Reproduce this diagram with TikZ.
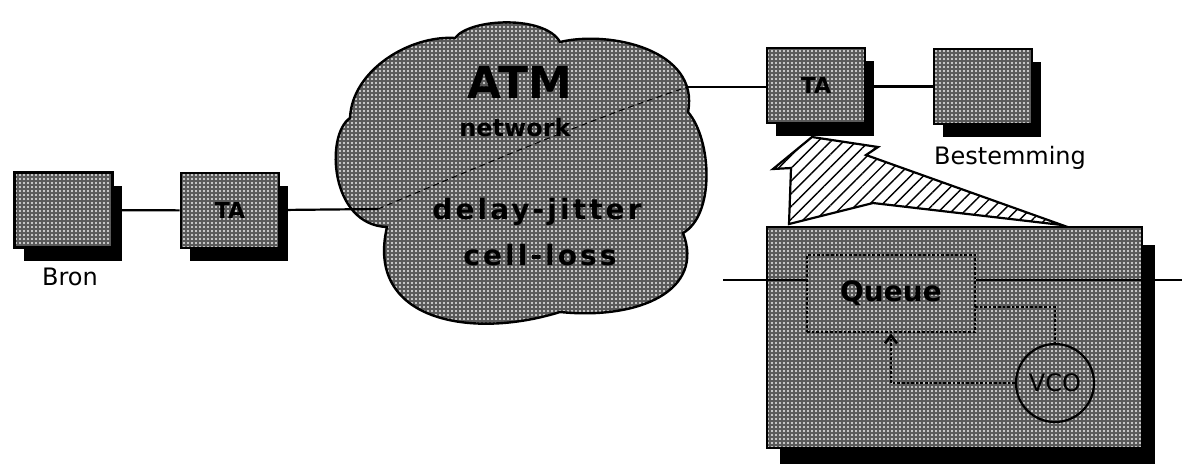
\documentclass[tikz,border=0pt]{standalone}
\usepackage{fontspec}
\setmainfont{DejaVu Sans}
\usetikzlibrary{shadows,patterns.meta,arrows.meta}
\begin{document}
\begin{tikzpicture}[x=0.5pt,y=-0.5pt,
  halftone/.style={preaction={fill=black!65}, pattern={Dots[radius=0.55pt,distance=2pt]}, pattern color=white!92!black},
  termbox/.style={draw=black, line width=1.4pt, minimum width=49pt, minimum height=37.5pt, inner sep=0pt,
    drop shadow={shadow xshift=4.5pt, shadow yshift=-6.5pt, fill=black, opacity=1}, halftone,
    font=\bfseries\fontsize{11}{12}\selectfont},
  conn/.style={line width=1.1pt},
  lbl/.style={font=\fontsize{12}{14}\selectfont},
  cloudtxt/.style={font=\bfseries\fontsize{14}{16}\selectfont\addfontfeature{LetterSpace=11}},
]
\useasboundingbox (0,0) rectangle (1182,463);
\fill[white] (0,0) rectangle (1182,463);

% hatched arrow
\draw[line width=1.1pt, line join=miter, pattern={Lines[angle=45,distance=4.5pt,line width=0.7pt]}]
  (789,224) -- (791,168) -- (773,169) -- (812,137) -- (878,147) -- (866,155) -- (1062,225) -- (873,203) -- cycle;

% terminals
\node[termbox] (bron) at (63.5,210) {};
\node[termbox] (taL) at (230,210.5) {TA};
\node[termbox] (taR) at (816,85.5) {TA};
\node[termbox] (best) at (983,86.5) {};
\node[lbl] (bronlbl) at (70,277) {Bron};
\node[lbl] (bestlbl) at (1010,158) {Bestemming};

% cloud
\coordinate (cin) at (378,209);
\coordinate (cout) at (688,87);
\path[halftone, draw=black, line width=1.2pt]
  (350,118) .. controls (352,70) and (410,35) .. (455,38)
  .. controls (470,18) and (545,15) .. (560,42)
  .. controls (610,30) and (700,50) .. (688,112)
  .. controls (712,140) and (715,215) .. (683,233)
  .. controls (705,290) and (640,320) .. (560,312)
  .. controls (470,340) and (365,320) .. (387,227)
  .. controls (330,225) and (325,135) .. (350,118) -- cycle;
\draw[densely dashed, line width=0.5pt] (cin) .. controls (470,170) and (600,115) .. (cout);
\node[font=\bfseries\fontsize{22}{24}\selectfont] (atm) at (520,82) {ATM};
\node[font=\bfseries\fontsize{12}{14}\selectfont] (net) at (515,128) {network};
\node[cloudtxt] (delay) at (537,212) {delay-jitter};
\node[cloudtxt] (loss) at (540,255) {cell-loss};

% connectors
\draw[conn] (bron) -- (taL);
\draw[conn] (taL) -- (cin);
\draw[conn] (cout) -- (taR.west |- cout);
\draw[conn] (taR.east |- best.west) -- (best);

% device box
\node[drop shadow={shadow xshift=6.5pt, shadow yshift=-9pt, fill=black, opacity=1},
  draw=black, line width=1.2pt, halftone, minimum width=187.5pt, minimum height=110.5pt, inner sep=0pt] (dev) at (954.5,337.5) {};
\node[draw=black, densely dotted, line width=1.3pt, minimum width=84pt, minimum height=38.5pt, inner sep=0pt,
  font=\bfseries\fontsize{14}{16}\selectfont] (queue) at (891,293.5) {Queue};
\node[circle, draw=black, line width=1.1pt, minimum size=39pt, inner sep=0pt,
  font=\fontsize{12}{14}\selectfont] (vco) at (1055,383) {VCO};
\coordinate (lineL) at (723,280);
\coordinate (lineR) at (1182,280);
\draw[conn] (lineL) -- (lineL -| queue.west);
\draw[conn] (lineL -| queue.east) -- (lineR);
\coordinate (qv) at (975,307);
\draw[densely dotted, line width=1.3pt] (qv) -| (vco.north);
\draw[densely dotted, line width=1.3pt, -{Straight Barb[length=4pt,width=6pt]}] (vco.west) -| (queue.south);
\end{tikzpicture}
\end{document}
